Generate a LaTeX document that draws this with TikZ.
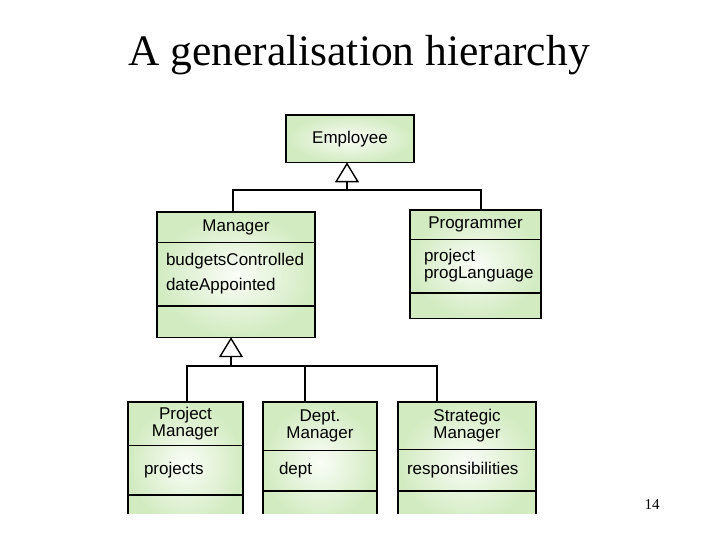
\documentclass[tikz,border=0pt]{standalone}
\usepackage{fontspec}
\setmainfont{Liberation Serif}
\newfontfamily\umlfont{Liberation Sans}
\usetikzlibrary{arrows.meta, shapes.multipart}

\definecolor{classedge}{RGB}{210,235,193}
\definecolor{classmid}{RGB}{250,253,247}

% compartment boxes: height, width, (indent), text
\newcommand{\namepart}[3]{\parbox[c][#1][c]{#2}{\centering #3}}
\newcommand{\attrpart}[4]{\parbox[c][#1][c]{#2}{\raggedright\leftskip=#3\relax #4}}

\tikzset{
  umlclass/.style={rectangle split, rectangle split parts=3, draw, line width=1.4pt,
    inner sep=0pt, outer sep=0pt, inner color=classmid, outer color=classedge,
    anchor=north west, font=\umlfont\fontsize{17}{17}\selectfont},
  gen/.style={line width=1.4pt, -{Triangle[open, length=20pt, width=24pt]}},
  tree/.style={line width=1.4pt}
}

\begin{document}
\begin{tikzpicture}[x=1pt, y=-1pt]
\useasboundingbox (0,0) rectangle (720,540);
% Title
\node[anchor=base, font=\fontsize{43.5}{43.5}\selectfont] (title) at (359,66) {A generalisation hierarchy};
% Employee
\node[umlclass, rectangle split parts=1] (emp) at (286,115) {\namepart{46pt}{128pt}{Employee}};
% Manager
\node[umlclass] (mgr) at (157,212) {\namepart{29pt}{158pt}{Manager}
  \nodepart{two}\attrpart{62pt}{158pt}{9pt}{budgetsControlled\\[8pt]dateAppointed}
  \nodepart{three}\namepart{30pt}{158pt}{}};
% Programmer
\node[umlclass] (prog) at (410,210) {\namepart{28pt}{131pt}{\raisebox{-1pt}{Programmer}}
  \nodepart{two}\attrpart{52pt}{131pt}{14pt}{project\\progLanguage}
  \nodepart{three}\namepart{24pt}{131pt}{}};
% Managers (cut off at the bottom)
\begin{scope}
\clip (0,0) rectangle (720,513);
\node[umlclass] (pm) at (128,402) {\namepart{42pt}{115pt}{Project\\Manager}
  \nodepart{two}\attrpart{48pt}{115pt}{16pt}{projects}
  \nodepart{three}\namepart{30pt}{115pt}{}};
\node[umlclass] (dm) at (263,402) {\namepart{47pt}{114pt}{Dept.\\Manager}
  \nodepart{two}\attrpart{39pt}{114pt}{16pt}{dept}
  \nodepart{three}\namepart{30pt}{114pt}{}};
\node[umlclass] (sm) at (398,402) {\namepart{46pt}{138pt}{Strategic\\Manager}
  \nodepart{two}\attrpart{40pt}{138pt}{9pt}{responsibilities}
  \nodepart{three}\namepart{30pt}{138pt}{}};
\end{scope}
% Generalisation links
\coordinate (emphub) at (347,190);
\draw[tree] ([xshift=76pt]mgr.north west) |- (emphub) -| ([xshift=71pt]prog.north west);
\draw[gen] (emphub) -- ([xshift=61pt]emp.south west);
\coordinate (mgrhub) at (231,366);
\draw[tree] ([xshift=59pt]pm.north west) |- (mgrhub) -| ([xshift=39pt]sm.north west);
\draw[tree] ([xshift=42pt]dm.north west) -- ([xshift=42pt]dm.north west |- mgrhub);
\draw[gen] (mgrhub) -- ([xshift=74pt]mgr.south west);
% Page number
\node[anchor=base, font=\fontsize{15}{15}\selectfont] (page) at (652,509) {14};
\end{tikzpicture}
\end{document}
